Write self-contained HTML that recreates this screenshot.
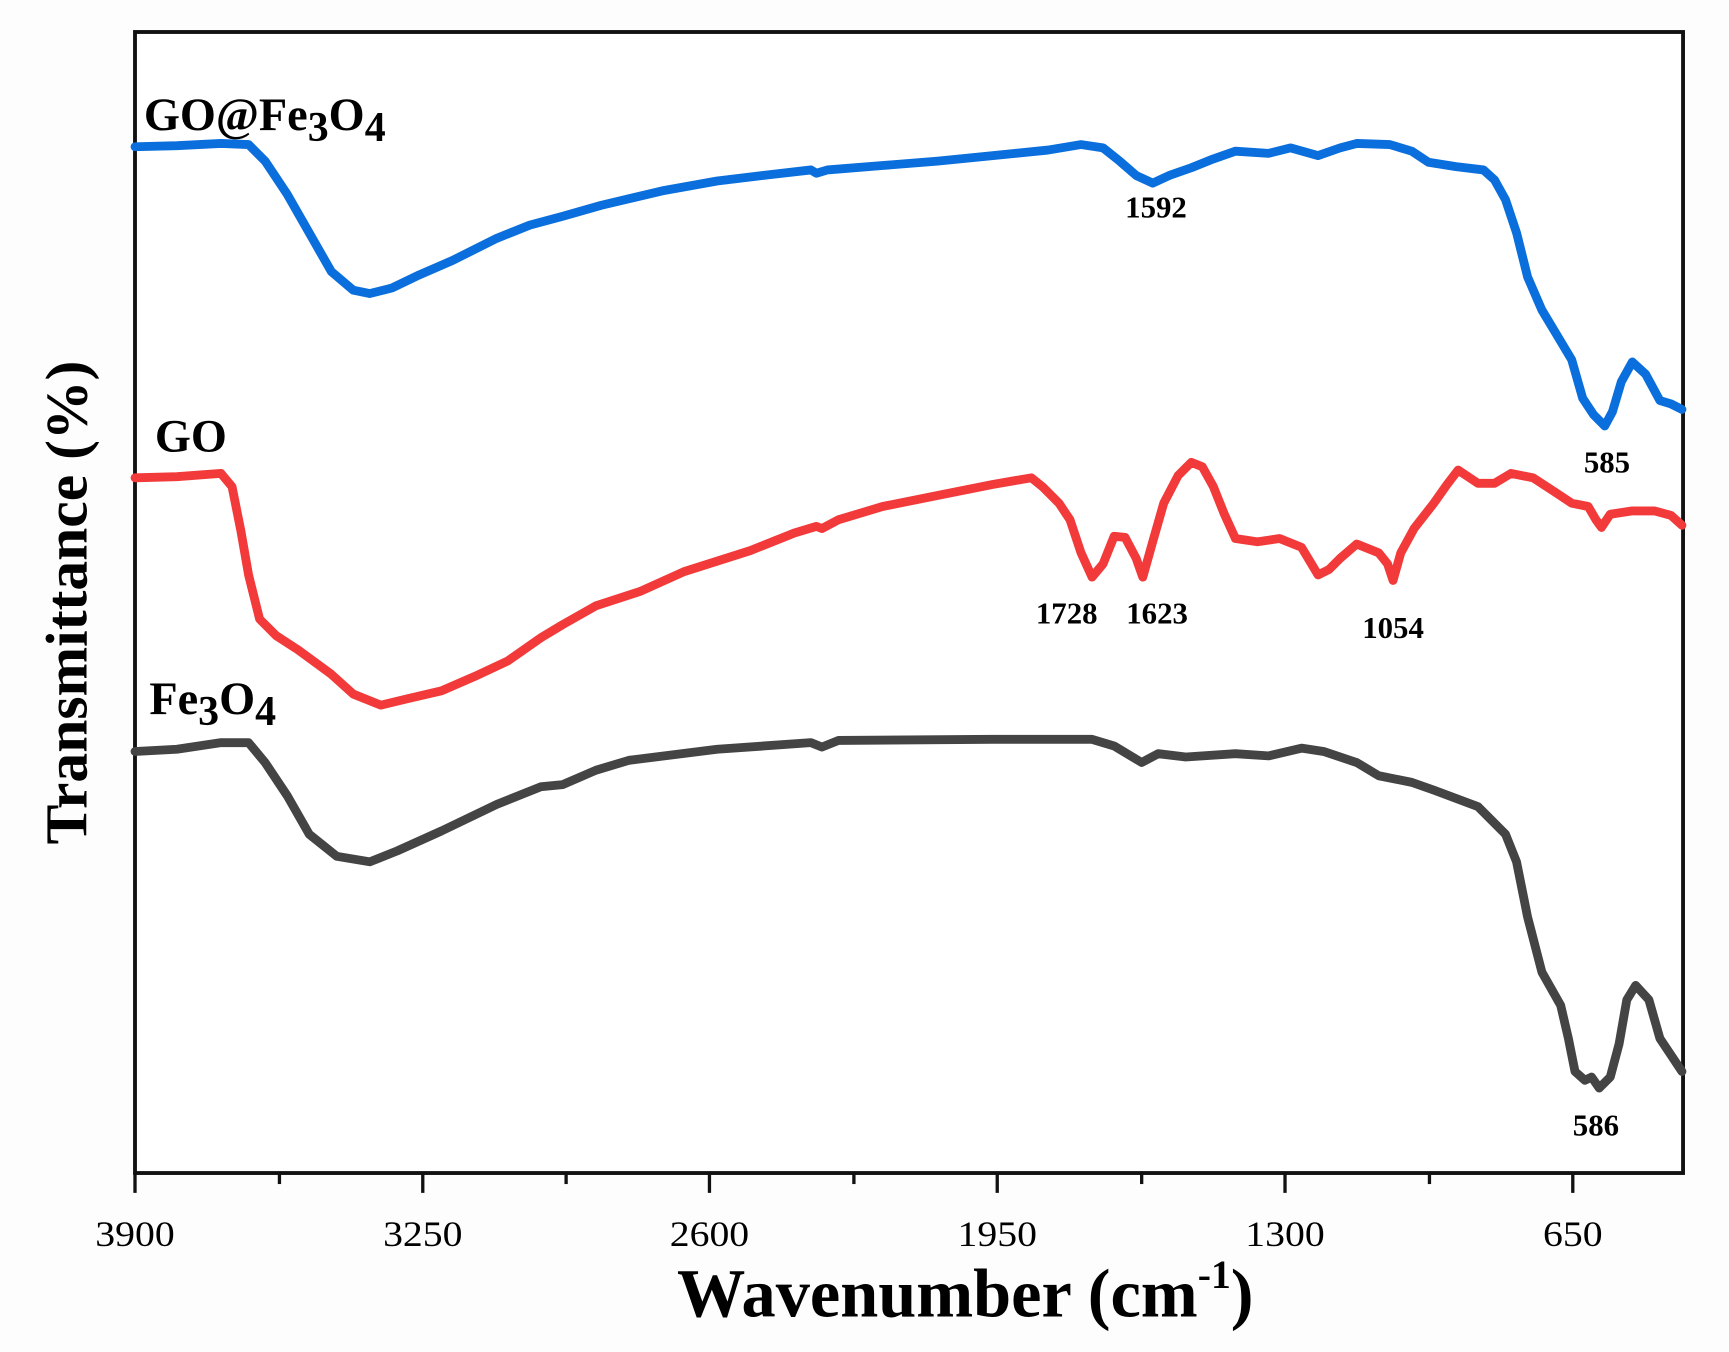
<!DOCTYPE html>
<html><head><meta charset="utf-8"><style>html,body{margin:0;padding:0;background:#fdfdfd}svg{display:block}</style></head>
<body>
<svg width="1729" height="1352" viewBox="0 0 1729 1352" xmlns="http://www.w3.org/2000/svg">
<rect width="1729" height="1352" fill="#fdfdfd"/>
<g transform="translate(135,32) scale(1.1026,1.1035) translate(-122,-28)" font-family="Liberation Serif, serif" font-weight="bold" fill="#000">
<rect x="122" y="28" width="1404" height="1034" fill="#fff" stroke="#111" stroke-width="3.5"/>
<g stroke="#111" stroke-width="3">
<line x1="122" y1="1062" x2="122" y2="1080"/><line x1="383" y1="1062" x2="383" y2="1080"/><line x1="643" y1="1062" x2="643" y2="1080"/><line x1="904" y1="1062" x2="904" y2="1080"/><line x1="1165" y1="1062" x2="1165" y2="1080"/><line x1="1426" y1="1062" x2="1426" y2="1080"/>
<line x1="253" y1="1062" x2="253" y2="1072"/><line x1="513" y1="1062" x2="513" y2="1072"/><line x1="774" y1="1062" x2="774" y2="1072"/><line x1="1035" y1="1062" x2="1035" y2="1072"/><line x1="1296" y1="1062" x2="1296" y2="1072"/>
</g>
<g font-weight="normal" font-size="33" text-anchor="middle">
<text x="122" y="1128" textLength="72" lengthAdjust="spacingAndGlyphs">3900</text><text x="383" y="1128" textLength="72" lengthAdjust="spacingAndGlyphs">3250</text><text x="643" y="1128" textLength="72" lengthAdjust="spacingAndGlyphs">2600</text><text x="904" y="1128" textLength="72" lengthAdjust="spacingAndGlyphs">1950</text><text x="1165" y="1128" textLength="72" lengthAdjust="spacingAndGlyphs">1300</text><text x="1426" y="1128" textLength="54" lengthAdjust="spacingAndGlyphs">650</text>
</g>
<text x="875" y="1192" font-size="62" text-anchor="middle">Wavenumber (cm<tspan font-size="36" dy="-26">-1</tspan><tspan dy="26">)</tspan></text>
<text transform="translate(78,545) rotate(-90)" font-size="54" text-anchor="middle">Transmittance (%)</text>
<g fill="none" stroke-width="8" stroke-linejoin="round" stroke-linecap="round">
<polyline stroke="#0a6fdc" points="122,132 160,131 200,129 225,130 240,145 260,175 280,210 300,245 320,262 335,265 355,260 380,248 410,235 450,215 480,203 510,195 545,185 600,172 650,163 700,157 735,153 740,156 750,153 800,149 850,145 900,140 950,135 980,130 1000,133 1015,145 1030,158 1045,165 1060,158 1080,151 1100,143 1120,136 1150,138 1170,133 1195,140 1215,133 1230,129 1260,130 1280,136 1295,146 1320,150 1345,153 1355,162 1365,180 1375,210 1385,250 1398,280 1410,300 1425,325 1435,360 1445,375 1455,385 1462,372 1470,345 1480,327 1492,338 1505,362 1515,365 1525,370"/>
<polyline stroke="#f23a3a" points="122,432 160,431 200,428 210,440 218,480 225,520 235,560 250,575 270,588 300,610 320,628 345,638 370,632 400,625 430,612 460,598 490,577 510,565 540,548 580,535 620,517 680,498 720,482 740,476 745,478 760,470 800,458 850,448 900,438 935,432 945,440 960,455 970,470 980,500 990,522 1000,510 1010,485 1020,486 1030,505 1036,522 1045,490 1055,455 1068,430 1080,418 1090,422 1100,440 1110,465 1120,487 1140,490 1160,487 1180,495 1195,520 1205,515 1215,505 1230,492 1250,500 1258,510 1263,525 1270,500 1282,478 1300,455 1312,438 1322,425 1340,437 1355,437 1370,428 1390,432 1410,445 1425,455 1440,458 1447,470 1452,477 1460,465 1480,462 1500,462 1515,466 1525,475"/>
<polyline stroke="#444" points="122,680 160,678 200,672 225,672 240,690 260,720 280,755 305,775 335,780 360,770 400,752 450,728 490,712 510,710 540,697 570,688 650,678 735,672 745,676 760,670 900,669 990,669 1010,675 1035,690 1050,682 1075,685 1120,682 1150,684 1180,677 1200,680 1230,690 1250,702 1280,708 1300,715 1340,730 1365,755 1375,780 1385,830 1398,880 1415,910 1422,940 1428,970 1437,978 1443,975 1450,985 1460,975 1468,945 1475,905 1483,892 1495,905 1505,940 1515,955 1525,970"/>
</g>
<g font-size="42">
<text x="130" y="117">GO@Fe<tspan font-size="38" dy="10">3</tspan><tspan dy="-10">O</tspan><tspan font-size="38" dy="10">4</tspan></text>
<text x="140" y="408">GO</text>
<text x="135" y="646">Fe<tspan font-size="38" dy="10">3</tspan><tspan dy="-10">O</tspan><tspan font-size="38" dy="10">4</tspan></text>
</g>
<g font-size="28" text-anchor="middle">
<text x="1048" y="196">1592</text><text x="1457" y="427">585</text><text x="967" y="564">1728</text><text x="1049" y="564">1623</text><text x="1263" y="577">1054</text><text x="1447" y="1028">586</text>
</g>
</g>
</svg>
</body></html>
